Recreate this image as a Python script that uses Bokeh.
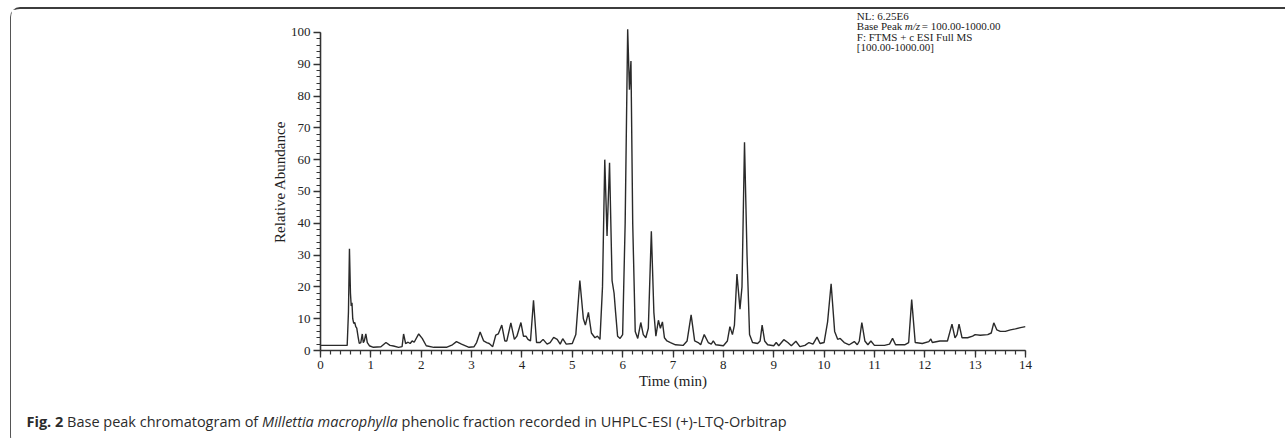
from bokeh.plotting import figure
from bokeh.models import Label, SingleIntervalTicker, ColumnDataSource, Div
from bokeh.layouts import column
from bokeh.embed import file_html
from bokeh.resources import INLINE

# ---- data ----
time_min = [0.00, 0.50, 0.53, 0.555, 0.575, 0.595, 0.61, 0.625, 0.64, 0.66, 0.68, 0.70, 0.72, 0.75, 0.77,
            0.80, 0.83, 0.85, 0.87, 0.90, 0.93, 0.97, 1.05, 1.20, 1.30, 1.38, 1.45, 1.55, 1.62, 1.65,
            1.69, 1.74, 1.78, 1.82, 1.86, 1.95, 2.02, 2.10, 2.25, 2.50, 2.62, 2.70, 2.80, 2.95, 3.05,
            3.10, 3.17, 3.24, 3.30, 3.35, 3.42, 3.48, 3.53, 3.60, 3.66, 3.70, 3.78, 3.85, 3.90, 3.98,
            4.03, 4.08, 4.12, 4.17, 4.23, 4.29, 4.36, 4.42, 4.50, 4.56, 4.63, 4.70, 4.76, 4.81, 4.88,
            5.00, 5.07, 5.15, 5.22, 5.26, 5.32, 5.38, 5.45, 5.50, 5.55, 5.60, 5.645, 5.69, 5.74, 5.79,
            5.83, 5.86, 5.90, 5.95, 6.00, 6.05, 6.10, 6.135, 6.165, 6.20, 6.25, 6.30, 6.36, 6.41, 6.46,
            6.51, 6.57, 6.62, 6.66, 6.71, 6.75, 6.79, 6.83, 6.88, 6.95, 7.05, 7.20, 7.28, 7.36, 7.43,
            7.50, 7.55, 7.62, 7.70, 7.76, 7.80, 7.85, 8.00, 8.08, 8.13, 8.18, 8.22, 8.27, 8.33, 8.37,
            8.42, 8.47, 8.52, 8.58, 8.68, 8.73, 8.77, 8.82, 8.88, 9.00, 9.05, 9.10, 9.20, 9.28, 9.35,
            9.44, 9.52, 9.62, 9.70, 9.78, 9.86, 9.92, 10.00, 10.07, 10.14, 10.21, 10.27, 10.32, 10.40, 10.50,
            10.60, 10.66, 10.70, 10.75, 10.81, 10.87, 10.93, 11.00, 11.20, 11.30, 11.36, 11.42, 11.60, 11.68, 11.74,
            11.81, 11.95, 12.08, 12.12, 12.15, 12.30, 12.45, 12.54, 12.60, 12.64, 12.68, 12.74, 12.85, 12.95, 13.00,
            13.10, 13.25, 13.32, 13.37, 13.43, 13.50, 13.60, 13.70, 13.80, 13.90, 14.00]
rel_abundance = [1.6, 1.6, 1.6, 12, 32, 18, 14, 15, 10, 8.5, 8.8, 7.5, 7, 4, 2.2,
                 2.5, 5.2, 2.5, 3, 5.2, 2.5, 1.5, 1.0, 1.2, 2.5, 1.6, 1.4, 1.0, 1.2, 5.2,
                 2.2, 2.6, 2.2, 3.0, 2.6, 5.2, 3.8, 1.5, 1.0, 1.0, 1.8, 2.8, 2.0, 1.0, 1.2,
                 2.5, 5.8, 3.0, 2.5, 2.2, 1.2, 4.8, 5.2, 8.0, 3.0, 3.0, 8.7, 3.5, 4.5, 8.8,
                 4.5, 4.5, 3.5, 3.0, 15.8, 2.5, 2.5, 3.5, 2.0, 2.5, 4.1, 3.5, 2.0, 3.7, 2.0,
                 2.2, 5, 22, 10, 8, 12, 5.5, 4, 4.5, 3.5, 20, 60, 36, 59, 22,
                 18, 12, 4.5, 3.8, 5, 40, 101, 82, 91, 40, 6, 3.8, 8.8, 5, 4,
                 7, 37.5, 12, 4.5, 9.5, 7, 9, 4, 3.0, 2.5, 1.8, 1.6, 3, 11.2, 3,
                 2.5, 1.8, 5.0, 2.5, 2, 3, 1.8, 1.5, 3, 7.5, 5, 8, 24, 13, 20,
                 65.5, 30, 5, 2.5, 2.2, 3, 8, 3, 1.8, 1.5, 2.5, 1.5, 3.4, 2.5, 1.5,
                 2.9, 1.2, 1.6, 2.5, 2.0, 4.2, 2.2, 2.5, 9, 21, 6, 3.5, 3.8, 2.5, 1.8,
                 2.8, 1.8, 3, 8.8, 3, 1.8, 3, 1.6, 1.6, 2, 3.8, 1.8, 1.8, 2.5, 16,
                 2.5, 2.2, 2.8, 3.6, 2.5, 3, 3, 8.3, 4, 5, 8.3, 4, 4, 4.5, 5,
                 4.8, 5, 5.5, 8.7, 6.5, 6, 6, 6.5, 6.8, 7.2, 7.5]

x_tick_interval = 1
y_tick_interval = 10

info_lines = ["NL: 6.25E6", "Base Peak ", "m/z", " = 100.00-1000.00",
              "F: FTMS + c ESI  Full MS", "[100.00-1000.00]"]
caption_bold = "Fig. 2"
caption_pre = "Base peak chromatogram of"
caption_italic = "Millettia macrophylla"
caption_post = "phenolic fraction recorded in UHPLC-ESI (+)-LTQ-Orbitrap"

SERIF = "Liberation Serif"
INK = "#333333"

W = 1272
H_MAIN = 386
H_CAP = 41
Y_TOP = 107.2

p = figure(width=W, height=H_MAIN, x_range=(0, 14), y_range=(0, Y_TOP),
           output_backend="svg", toolbar_location=None,
           min_border_left=309, min_border_right=258, min_border_top=0, min_border_bottom=45)
p.title.visible = False
p.outline_line_color = None
p.xgrid.visible = False
p.ygrid.visible = False
p.background_fill_color = "white"
p.border_fill_color = "white"

src = ColumnDataSource(dict(t=time_min, a=rel_abundance))
p.line("t", "a", source=src, line_color="#2a2a2a", line_width=1.4)

for ax in (p.xaxis[0], p.yaxis[0]):
    ax.axis_line_color = INK
    ax.axis_line_width = 1.6
    ax.major_tick_line_color = INK
    ax.minor_tick_line_color = INK
    ax.major_tick_line_width = 1.3
    ax.minor_tick_line_width = 1.2
    ax.major_tick_in = 0
    ax.minor_tick_in = 0
    ax.major_tick_out = 7
    ax.minor_tick_out = 4
    ax.major_label_text_font = SERIF
    ax.major_label_text_font_size = "13px"
    ax.major_label_text_color = "#222222"
    ax.axis_label_text_font = SERIF
    ax.axis_label_text_font_size = "15px"
    ax.axis_label_text_font_style = "normal"
    ax.axis_label_text_color = "#222222"

p.xaxis[0].ticker = SingleIntervalTicker(interval=x_tick_interval, num_minor_ticks=5)
p.yaxis[0].ticker = SingleIntervalTicker(interval=y_tick_interval, num_minor_ticks=5)
p.yaxis[0].bounds = (0, 100)
p.xaxis[0].axis_label = "Time (min)"
p.yaxis[0].axis_label = "Relative  Abundance"
p.xaxis[0].major_label_standoff = 3
p.yaxis[0].major_label_standoff = 3
p.xaxis[0].axis_label_standoff = 1
p.yaxis[0].axis_label_standoff = 0

# info block (top right)
ix = 10.65
info_specs = [
    (info_lines[0], 0, 107.2, "normal"),
    (info_lines[1], 0, 103.85, "normal"),
    (info_lines[2], 48, 103.85, "italic"),
    (info_lines[3], 65, 103.85, "normal"),
    (info_lines[4], 0, 100.5, "normal"),
    (info_lines[5], 0, 97.15, "normal"),
]
for txt, xo, yy, st in info_specs:
    p.add_layout(Label(x=ix, y=yy, x_offset=xo, text=txt, text_font=SERIF, text_font_size="11px",
                       text_font_style=st, text_color="#222222", text_baseline="top"))

caption_html = (
    '<div style="padding: 12px 0 0 11px; font-family: \'Open Sans\', sans-serif; '
    'font-size: 14.5px; line-height: 19px; color: #2b2b2b; white-space: nowrap;">'
    f'<b>{caption_bold}</b> {caption_pre} <i>{caption_italic}</i> {caption_post}</div>'
)
cap = Div(text=caption_html, width=W, height=H_CAP)

layout = column(p, cap, spacing=0)
layout.styles = {"margin-top": "7px", "margin-left": "9.5px",
                 "border-top": "2px solid #3c3c3c", "border-left": "1.5px solid #555555",
                 "border-top-left-radius": "10px", "border-bottom-left-radius": "10px"}

open("out.html", "w").write(file_html(layout, INLINE))
